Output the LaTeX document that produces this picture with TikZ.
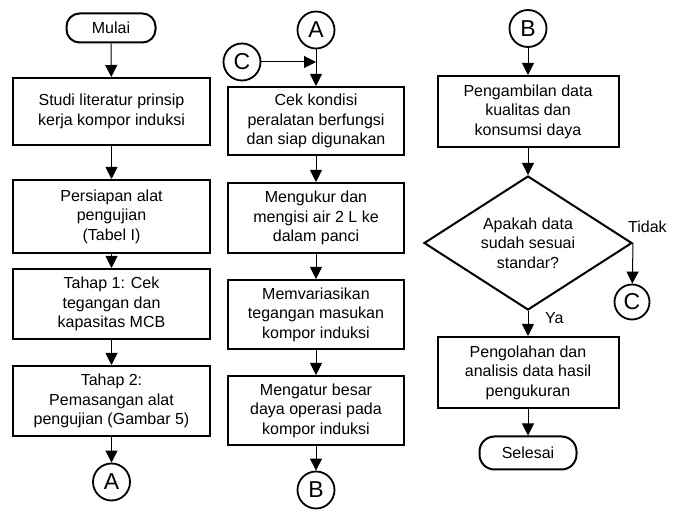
\documentclass[tikz,border=0pt]{standalone}
\usepackage{fontspec}
\setmainfont{Liberation Sans}
\usetikzlibrary{shapes.geometric,arrows.meta}
\begin{document}
\begin{tikzpicture}[x=1pt,y=-1pt,
  font=\fontsize{16}{19.5}\selectfont,
  box/.style={draw, line width=2pt, align=center, inner sep=0pt, rectangle},
  term/.style={draw, line width=2pt, rounded corners=13pt, inner sep=0pt, minimum height=29pt},
  conn/.style={draw, line width=1.8pt, circle, inner sep=0pt, minimum size=37pt, font=\fontsize{23}{23}\selectfont},
  dec/.style={draw, line width=2pt, diamond, aspect=1.55, inner sep=0pt, minimum width=208pt, minimum height=134pt, align=center},
  arr/.style={line width=1pt, -{Triangle[length=12pt,width=12pt]}},
  lbl/.style={inner sep=0pt}]
\useasboundingbox (0,0) rectangle (678,510);
% column 1
\node[term, minimum width=89pt] (start) at (111,28) {Mulai};
\node[box, minimum width=197pt, minimum height=67pt] (b1) at (111.5,111.5) {Studi literatur prinsip\\kerja kompor induksi};
\node[box, minimum width=197pt, minimum height=73pt] (b2) at (111.5,216.5) {Persiapan alat\\pengujian\\(Tabel I)};
\node[box, minimum width=197pt, minimum height=70pt] (b3) at (111.5,304) {Tahap 1: Cek\\tegangan dan\\kapasitas MCB};
\node[box, minimum width=197pt, minimum height=70pt] (b4) at (111.5,401) {Tahap 2:\\Pemasangan alat\\pengujian (Gambar 5)};
\node[conn] (a1) at (111.5,482) {A};
\draw[arr] (start) -- (b1);
\draw[arr] (b1) -- (b2);
\draw[arr] (b2) -- (b3);
\draw[arr] (b3) -- (b4);
\draw[arr] (b4) -- (a1);
% column 2
\node[conn] (a2) at (316,30) {A};
\node[conn] (c1) at (242,62) {C};
\coordinate (m) at (316,62);
\node[box, minimum width=176pt, minimum height=68pt] (b5) at (316,121) {Cek kondisi\\peralatan berfungsi\\dan siap digunakan};
\node[box, minimum width=176pt, minimum height=70pt] (b6) at (316,218) {Mengukur dan\\mengisi air 2 L ke\\dalam panci};
\node[box, minimum width=176pt, minimum height=69pt] (b7) at (316,314.5) {Memvariasikan\\tegangan masukan\\kompor induksi};
\node[box, minimum width=176pt, minimum height=69pt] (b8) at (316,410.5) {Mengatur besar\\daya operasi pada\\kompor induksi};
\node[conn] (bb1) at (316,490) {B};
\draw[arr] (a2) -- (b5);
\draw[arr] (c1) -- (m);
\draw[arr] (b5) -- (b6);
\draw[arr] (b6) -- (b7);
\draw[arr] (b7) -- (b8);
\draw[arr] (b8) -- (bb1);
% column 3
\node[conn] (bb2) at (528,28.5) {B};
\node[box, minimum width=181pt, minimum height=71pt] (b9) at (528,111.5) {Pengambilan data\\kualitas dan\\konsumsi daya};
\node[dec] (d) at (528,243) {Apakah data\\sudah sesuai\\standar?};
\node[conn, minimum size=35pt] (c2) at (632,302) {C};
\node[box, minimum width=181pt, minimum height=71pt] (b10) at (528,372.5) {Pengolahan dan\\analisis data hasil\\pengukuran};
\node[term, minimum width=97pt, minimum height=33pt, rounded corners=15pt] (end) at (528,453) {Selesai};
\draw[arr] (bb2) -- (b9);
\draw[arr] (b9) -- (d);
\draw[arr] (d.east) -- (c2);
\draw[arr] (d) -- (b10);
\draw[arr] (b10) -- (end);
\node[lbl, anchor=base west] (tidak) at (628,233) {Tidak};
\node[lbl, anchor=base west] (ya) at (545,324) {Ya};
\end{tikzpicture}
\end{document}
